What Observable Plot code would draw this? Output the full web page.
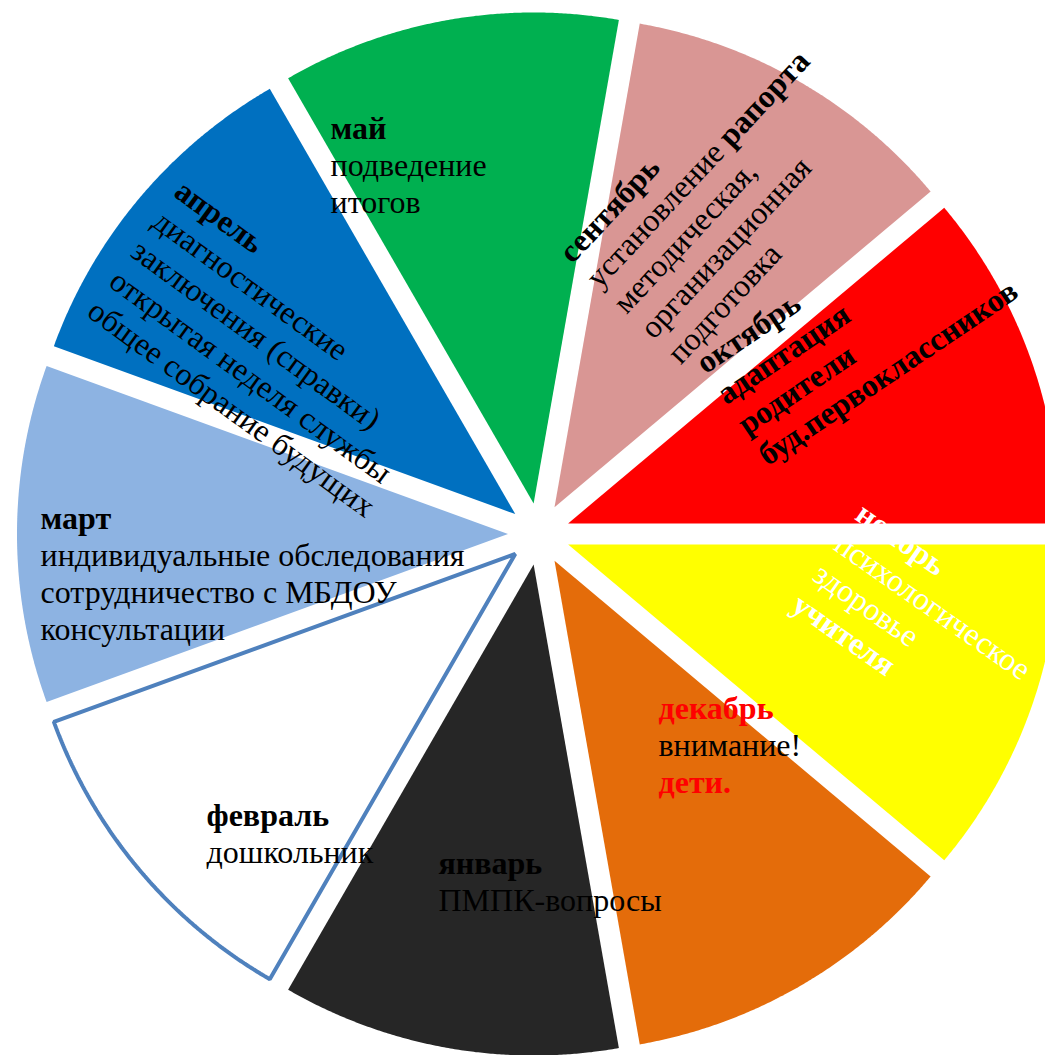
<!DOCTYPE html>
<html><head><meta charset="utf-8">
<script src="https://cdn.jsdelivr.net/npm/d3@7"></script>
<script src="https://cdn.jsdelivr.net/npm/@observablehq/plot@0.6"></script>
<style>html,body{margin:0;padding:0;background:#fff;overflow:hidden}</style>
</head><body><div id="chart"></div>
<script>
// ---- data ----
const months = ["сентябрь","октябрь","ноябрь","декабрь","январь","февраль","март","апрель","май"];
const shares = [1,1,1,1,1,1,1,1,1];
const sliceColors = ["#D99694","#FF0000","#FFFF00","#E46C0A","#262626","#FFFFFF","#8DB3E2","#0070C0","#00B050"];
// label lines per month; **…** marks bold runs
const linesSep = ["**сентябрь**","установление **рапорта**","методическая,","организационная","подготовка"];
const linesOct = ["**октябрь**","**адаптация**","**родители**","**буд.первоклассников**"];
const linesNov = ["**ноябрь**","психологическое","здоровье","**учителя**"];
const linesDec = ["**декабрь**","внимание!","**дети.**"];
const linesJan = ["**январь**","ПМПК-вопросы"];
const linesFeb = ["**февраль**","дошкольник"];
const linesMar = ["**март**","индивидуальные обследования","сотрудничество с МБДОУ","консультации"];
const linesApr = ["**апрель**","диагностические","заключения (справки)","открытая неделя службы","общее собрание будущих"];
const linesMay = ["**май**","подведение","итогов"];
const labelLines = [linesSep,linesOct,linesNov,linesDec,linesJan,linesFeb,linesMar,linesApr,linesMay];
const lineColors = [
  ["black"],["black"],["white"],["red","black","red"],["black"],["black"],["black"],["black"],["black"]
];

// ---- layout ----
const W = 1045, H = 1055, CX = 538.5, CY = 533.5;
const R = 491, EXPLODE = 31;
const FONT = "'Liberation Serif','Times New Roman',serif";
const FS = 32, LH = 37;
const labelPos = [
  {x: 572, y: 264, rot: -47},
  {x: 705, y: 374, rot: -34},
  {x: 853, y: 518, rot: 35},
  {x: 658, y: 718, rot: 0},
  {x: 438, y: 873, rot: 0},
  {x: 206, y: 825, rot: 0},
  {x: 40,  y: 528, rot: 0},
  {x: 172, y: 195, rot: 36},
  {x: 330, y: 138, rot: 0}
];

// ---- slices ----
const deg = Math.PI / 180;
const arcs = d3.pie().sort(null).startAngle(10 * deg).endAngle(370 * deg)(shares);
const slicePts = [];
arcs.forEach((a, i) => {
  const mid = (a.startAngle + a.endAngle) / 2;
  const ox = EXPLODE * Math.sin(mid), oy = EXPLODE * Math.cos(mid);
  slicePts.push({month: months[i], color: sliceColors[i], x: ox, y: oy});
  const n = 160;
  for (let k = 0; k <= n; k++) {
    const t = a.startAngle + (a.endAngle - a.startAngle) * k / n;
    slicePts.push({month: months[i], color: sliceColors[i], x: ox + R * Math.sin(t), y: oy + R * Math.cos(t)});
  }
});
const febPts = slicePts.filter(d => d.month === "февраль");

// ---- text rows ----
const ctx = document.createElement("canvas").getContext("2d");
function measure(s, bold) { ctx.font = `${bold ? "bold " : ""}${FS}px ${FONT}`; return ctx.measureText(s).width; }
const textRows = [];
labelLines.forEach((lines, mi) => {
  const p = labelPos[mi], r = p.rot * deg;
  lines.forEach((line, li) => {
    const color = lineColors[mi][li] ?? lineColors[mi][0];
    const parts = line.split("**");
    let along = 0;
    parts.forEach((seg, si) => {
      if (!seg) return;
      const bold = si % 2 === 1;
      const px = p.x + li * LH * (-Math.sin(r)) + along * Math.cos(r);
      const py = p.y + li * LH * Math.cos(r) + along * Math.sin(r);
      textRows.push({text: seg, bold, color, rotate: p.rot, x: px - CX, y: CY - py});
      along += measure(seg, bold);
    });
  });
});

const common = {x: "x", y: "y", text: "text", rotate: "rotate", fill: "color",
  fontSize: FS, fontFamily: FONT, textAnchor: "start", lineAnchor: "bottom"};

const chart = Plot.plot({
  width: W, height: H,
  marginTop: 0, marginRight: 0, marginBottom: 0, marginLeft: 0,
  x: {domain: [-CX, W - CX], range: [0, W], axis: null},
  y: {domain: [CY, CY - H], range: [0, H], axis: null},
  color: {type: "identity"},
  style: {background: "white"},
  marks: [
    Plot.line(slicePts, {x: "x", y: "y", z: "month", fill: "color", stroke: "none", curve: "linear-closed"}),
    Plot.line(febPts, {x: "x", y: "y", fill: "none", stroke: "#4F81BD", strokeWidth: 4, strokeLinejoin: "miter", curve: "linear-closed"}),
    Plot.text(textRows.filter(d => !d.bold), {...common, fontWeight: "normal"}),
    Plot.text(textRows.filter(d => d.bold), {...common, fontWeight: "bold"})
  ]
});
document.getElementById("chart").appendChild(chart);
</script>
</body></html>
